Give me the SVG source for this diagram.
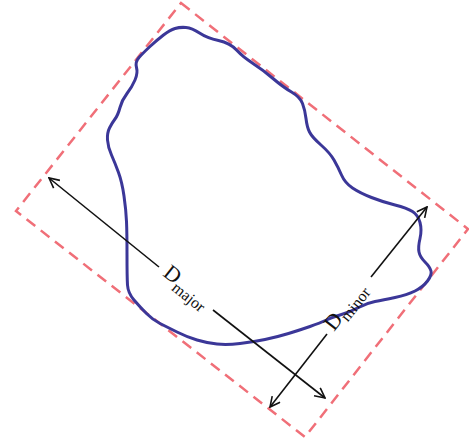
<svg xmlns="http://www.w3.org/2000/svg" width="469" height="445" viewBox="0 0 469 445">
<style>
.box{fill:none;stroke:#f06f78;stroke-width:2.5;stroke-dasharray:11 7}
.blob{fill:none;stroke:#3b3798;stroke-width:3;stroke-linejoin:round;stroke-linecap:round}
.dim{fill:none;stroke:#111;stroke-width:1.6}
.lbl{font-family:"Liberation Serif",serif;fill:#111}
</style>
<defs>
<marker id="ah" viewBox="0 0 12 12" refX="11" refY="6" markerWidth="12" markerHeight="12" markerUnits="userSpaceOnUse" orient="auto-start-reverse">
<path d="M1,1 L11,6 L1,11" fill="none" stroke="#111" stroke-width="1.6"/>
</marker>
</defs>
<g id="bounding-box">
<polygon class="box" points="181,3 468,229 305,437 16,211"/>
</g>
<g id="outline">
<path class="blob" d="M175,28.5 Q180,27 186,27.5 Q192,28 199.5,33 Q207,38 218.5,40.5 Q230,43 236.5,50 Q243,57 253,63.5 Q263,70 273,78.5 Q283,87 291.5,92 Q300,97 302.5,103.5 Q305,110 306,118.5 Q307,127 309.5,132 Q312,137 321,145 Q330,153 334,160 Q338,167 341.5,175 Q345,183 352.5,188 Q360,193 371.5,197.5 Q383,202 395,205 Q407,208 412.5,211.5 Q418,215 420,222.5 Q422,230 420,238.5 Q418,247 419,252 Q420,257 425,262 Q430,267 431,271 Q432,275 427.5,281 Q423,287 415,291 Q407,295 395,297.5 Q383,300 375,301.5 Q367,303 358.5,307.5 Q350,312 341.5,314.5 Q333,317 326.5,320 Q320,323 310,326.5 Q300,330 288.5,333.5 Q277,337 265,339.5 Q253,342 240,343.5 Q227,345 217,344 Q207,343 197,340 Q187,337 177,332 Q167,327 160,323.5 Q153,320 146.5,313.5 Q140,307 134,300 Q128,293 127.5,285 Q127,277 127,255 Q127,233 126.5,221.5 Q126,210 124,196 Q122,182 118.5,172.5 Q115,163 111.5,155 Q108,147 107.5,140 Q107,133 109.5,128 Q112,123 115,119 Q118,115 120,107.5 Q122,100 127,93.5 Q132,87 135,80 Q138,73 136.5,67.5 Q135,62 139,57.5 Q143,53 150,46.5 Q157,40 163.5,35 Q170,30 175,28.5 Z"/>
</g>
<g id="connectors">
<line class="dim" x1="159" y1="267" x2="49" y2="178" marker-end="url(#ah)"/>
<line class="dim" x1="213" y1="310" x2="325" y2="398" marker-end="url(#ah)"/>
<line class="dim" x1="327" y1="334" x2="270" y2="407" marker-end="url(#ah)"/>
<line class="dim" x1="371" y1="277" x2="427" y2="207" marker-end="url(#ah)"/>
</g>
<g id="label-major">
<text class="lbl" transform="translate(162,275) rotate(38.6)" font-size="22">D<tspan font-size="16" dy="6">major</tspan></text>
</g>
<g id="label-minor">
<text class="lbl" transform="translate(334,332) rotate(-51.9)" font-size="22">D<tspan font-size="16" dy="5">minor</tspan></text>
</g>
</svg>
